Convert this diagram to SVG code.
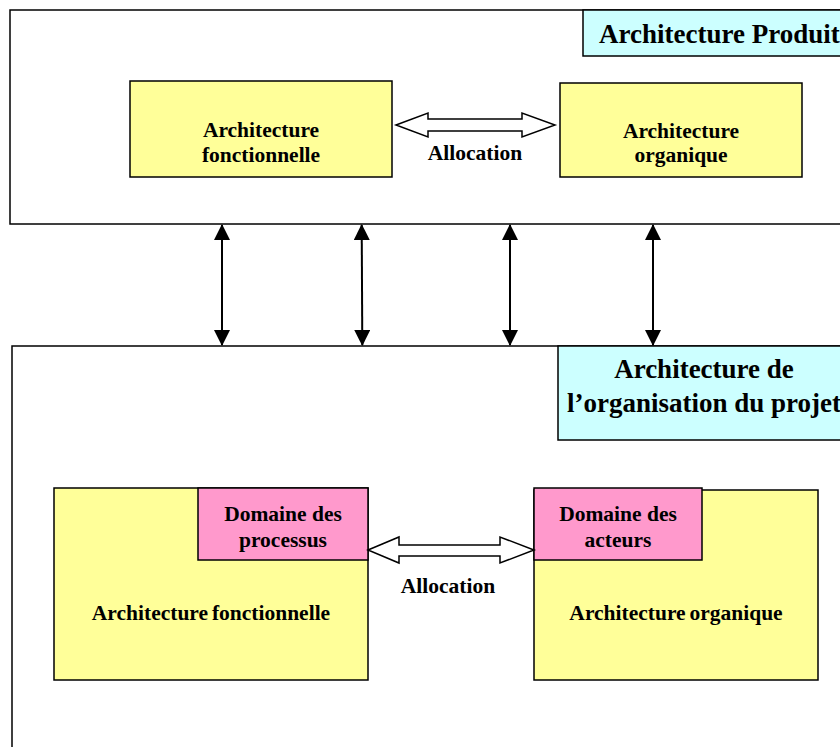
<svg xmlns="http://www.w3.org/2000/svg" width="840" height="747" viewBox="0 0 840 747">
<defs>
<style>
.frame{fill:#ffffff;stroke:#000;stroke-width:1.5}
.yel{fill:#FFFF99;stroke:#000;stroke-width:1.5}
.cyan{fill:#CCFFFF;stroke:#000;stroke-width:1.5}
.pink{fill:#FF99CC;stroke:#000;stroke-width:1.5}
.hollow{fill:#ffffff;stroke:#000;stroke-width:1.5;stroke-linejoin:miter}
.v{stroke:#000;stroke-width:2;fill:none;marker-start:url(#ah);marker-end:url(#ah)}
text{font-family:"Liberation Serif","Times New Roman",serif;font-weight:bold;fill:#000}
.t{font-size:21.5px;text-anchor:middle}
.title{font-size:27px}
</style>
<marker id="ah" viewBox="0 0 16 16" refX="15" refY="8" markerWidth="16" markerHeight="16" markerUnits="userSpaceOnUse" orient="auto-start-reverse">
<path d="M0,0 L16,8 L0,16 Z" fill="#000"/>
</marker>
</defs>

<g id="produit">
<rect class="frame" x="10" y="10" width="900" height="214"/>
<rect class="cyan" x="583" y="10" width="300" height="46"/>
<text class="title" x="599" y="43">Architecture Produit</text>
</g>

<g id="organisation">
<rect class="frame" x="12" y="346" width="900" height="500"/>
<rect class="cyan" x="558" y="346" width="330" height="94"/>
<text class="title" x="704" y="378" text-anchor="middle">Architecture de</text>
<text class="title" x="704" y="412" text-anchor="middle">l’organisation du projet</text>
</g>

<g id="p-fonct">
<rect class="yel" x="130" y="81" width="262" height="96"/>
<text class="t" x="261" y="137">Architecture</text>
<text class="t" x="261" y="162">fonctionnelle</text>
</g>

<g id="p-organ">
<rect class="yel" x="560" y="83" width="242" height="94"/>
<text class="t" x="681" y="138">Architecture</text>
<text class="t" x="681" y="162">organique</text>
</g>

<g id="o-fonct">
<rect class="yel" x="54" y="488" width="314" height="192"/>
<rect class="pink" x="198" y="488" width="170" height="72"/>
<text class="t" x="283" y="521">Domaine des</text>
<text class="t" x="283" y="547">processus</text>
<text class="t" x="211" y="620" word-spacing="-1.5">Architecture fonctionnelle</text>
</g>

<g id="o-organ">
<rect class="yel" x="534" y="490" width="284" height="190"/>
<rect class="pink" x="534" y="488" width="168" height="72"/>
<text class="t" x="618" y="521">Domaine des</text>
<text class="t" x="618" y="547">acteurs</text>
<text class="t" x="676" y="620" word-spacing="-1.5">Architecture organique</text>
</g>

<g id="connectors">
<polygon class="hollow" points="396,125 428,113 428,119 522,119 522,113 555,125 522,137 522,131 428,131 428,137"/>
<text class="t" x="475" y="160">Allocation</text>
<polygon class="hollow" points="368,550 399,537 399,545 500,545 500,537 534,550 500,563 500,556 399,556 399,563"/>
<text class="t" x="448" y="593">Allocation</text>
<line class="v" x1="222" y1="225" x2="222" y2="345"/>
<line class="v" x1="361.7" y1="225" x2="362.3" y2="345"/>
<line class="v" x1="510" y1="225" x2="510" y2="345"/>
<line class="v" x1="653" y1="225" x2="653" y2="345"/>
</g>
</svg>
